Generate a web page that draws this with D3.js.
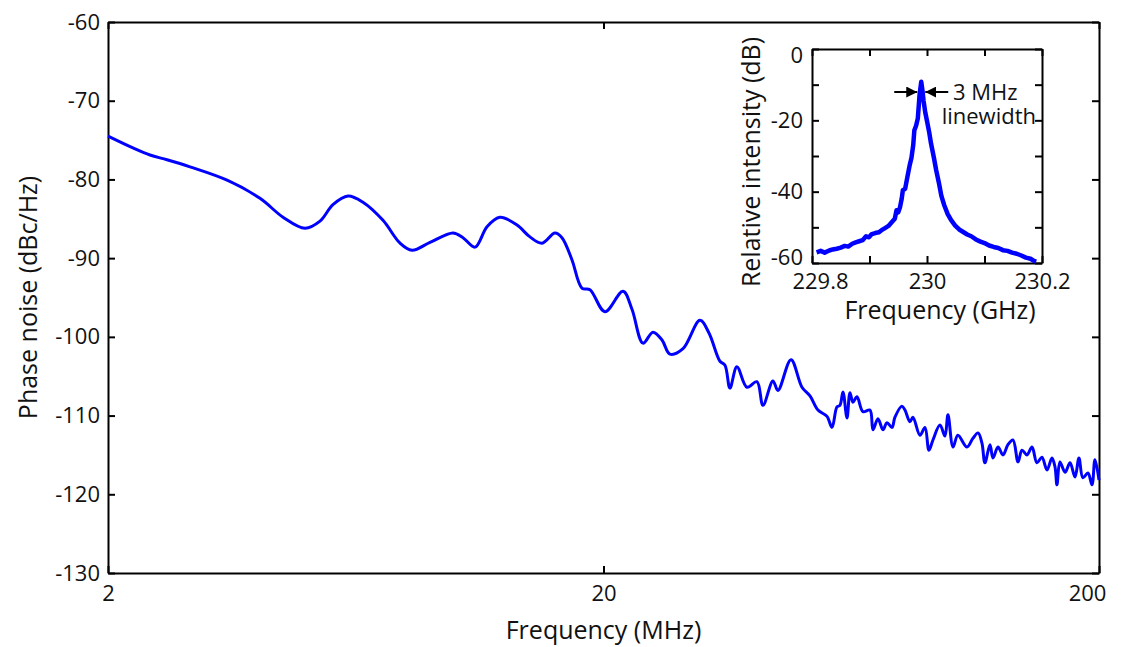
<!DOCTYPE html>
<html>
<head>
<meta charset="utf-8">
<script src="https://cdn.jsdelivr.net/npm/d3@7"></script>
<style>
  body { margin: 0; background: #fff; }
  svg { font-family: "Open Sans", "Noto Sans", sans-serif; }
  .axis path, .axis line { stroke: #000; stroke-width: 2; }
  .axis text { font-size: 22px; fill: #111; font-family: "Open Sans", sans-serif; }
  .label { font-size: 25px; fill: #111; }
</style>
</head>
<body>
<div id="chart"></div>
<script>
// main plot: phase noise vs offset frequency (MHz)
var noiseFreq = [2.00, 2.246, 2.431, 2.631, 2.927, 3.478, 4.053, 4.511, 4.996, 5.356, 5.689, 6.102, 6.540,
  7.178, 7.770, 8.216, 8.930, 9.938, 10.41, 11.01, 11.64, 12.36, 13.38, 14.21, 15.03, 15.96, 16.49,
  17.27, 18.09, 18.78, 20.14, 21.90, 22.83, 24.03, 25.17, 26.25, 27.24, 28.94, 31.31, 32.65, 34.36,
  35.17, 35.99, 37.18, 38.95, 40.80, 41.96, 43.95, 44.99, 47.80, 50.30, 52.21, 54.18, 56.50, 57.83,
  59.18, 60.01, 60.86, 62.00, 62.87, 63.75, 64.95, 66.78, 68.99, 69.96, 71.61, 73.29, 74.66, 76.42,
  77.49, 80.05, 81.18, 83.08, 84.25, 87.03, 89.08, 90.75, 92.45, 95.51, 97.75, 99.13, 101.5, 103.8,
  108.3, 111.3, 114.0, 116.1, 117.7, 120.5, 122.2, 125.1, 128.0, 131.0, 134.1, 137.3, 139.8, 143.1,
  146.5, 149.9, 153.4, 157.1, 160.7, 163.0, 164.5, 166.8, 170.8, 174.8, 178.9, 182.2, 185.6, 190.0,
  193.6, 196.3, 200];
var noiseDb = [-74.5, -76.0, -76.9, -77.5, -78.4, -80.1, -82.4, -84.8, -86.2, -85.3, -83.2, -82.1, -82.9,
  -85.2, -88.1, -89.0, -88.0, -86.8, -87.4, -88.6, -86.0, -84.8, -85.8, -87.3, -88.1, -86.8, -87.4,
  -90.2, -93.8, -94.0, -96.8, -94.2, -96.5, -100.8, -99.4, -100.4, -102.2, -101.5, -97.9, -99.5, -103.1,
  -103.6, -106.5, -103.8, -106.4, -105.7, -108.7, -105.6, -106.8, -102.9, -106.4, -107.5, -109.3, -110.1, -111.5,
  -108.9, -108.7, -107.0, -110.3, -107.1, -108.3, -107.6, -109.5, -109.3, -111.8, -110.4, -111.8, -110.9, -111.5,
  -110.2, -108.8, -109.3, -110.8, -110.2, -112.5, -111.5, -114.4, -113.1, -111.2, -112.6, -109.9, -114.0, -112.5,
  -114.0, -112.9, -112.2, -113.5, -116.0, -113.7, -115.4, -114.0, -115.0, -113.7, -113.1, -115.9, -114.4, -115.0,
  -114.0, -116.0, -115.3, -116.9, -115.4, -116.5, -118.8, -115.9, -117.2, -116.0, -117.8, -115.4, -117.9, -117.3,
  -118.8, -115.6, -118.2];
var xTicks = [2, 20, 200];
var yTicks = [-60, -70, -80, -90, -100, -110, -120, -130];

// inset: optical spectrum (GHz)
var specFreq = [229.808, 229.815, 229.822, 229.830, 229.836, 229.843, 229.850, 229.857, 229.863, 229.870,
  229.876, 229.882, 229.888, 229.894, 229.899, 229.904, 229.910, 229.916, 229.921, 229.927, 229.933,
  229.939, 229.944, 229.947, 229.950, 229.953, 229.956, 229.958, 229.962, 229.966, 229.970, 229.973,
  229.976, 229.978, 229.981, 229.984, 229.987, 229.990, 229.992, 229.994, 229.997, 230.000, 230.004,
  230.007, 230.012, 230.016, 230.021, 230.025, 230.030, 230.036, 230.042, 230.049, 230.056, 230.063,
  230.070, 230.077, 230.085, 230.093, 230.100, 230.108, 230.116, 230.124, 230.132, 230.140, 230.148,
  230.156, 230.164, 230.172, 230.180, 230.186, 230.190];
var specDb = [-57.0, -56.6, -57.1, -56.5, -56.2, -56.0, -55.7, -55.2, -55.4, -54.6,
  -54.2, -53.9, -53.6, -52.5, -52.8, -51.9, -51.6, -51.4, -50.8, -50.2, -49.6,
  -48.5, -47.6, -45.2, -45.8, -44.4, -42.0, -39.6, -39.2, -35.8, -32.5, -30.5,
  -27.0, -22.8, -21.5, -19.5, -13.0, -9.2, -11.5, -14.5, -17.8, -20.2, -23.5,
  -26.5, -30.5, -34.0, -37.8, -41.2, -43.8, -46.3, -48.0, -49.5, -50.6, -51.3,
  -52.0, -52.5, -53.4, -54.0, -54.4, -55.1, -55.5, -55.8, -56.4, -56.6, -57.1,
  -57.4, -57.9, -58.5, -58.8, -59.4, -59.6];
var specXTicks = [229.8, 229.9, 230, 230.1, 230.2];
var specXLabels = [229.8, 230, 230.2];
var specYTicks = [0, -10, -20, -30, -40, -50, -60];
var specYLabels = [0, -20, -40, -60];
var lwFreq = [229.990];   // peak that the linewidth arrows point at

var width = 1122, height = 647;
var mLeft = 108, mRight = 1099, mTop = 22, mBottom = 573;

// plain hyphen for negatives, like the original figure
function fmt(d) { return String(d); }

var svg = d3.select('#chart').append('svg')
  .attr('width', width)
  .attr('height', height);

var x = d3.scaleLog().domain([2, 200]).range([mLeft, mRight]);
var y = d3.scaleLinear().domain([-130, -60]).range([mBottom, mTop]);

// axes, ticks pointing inwards on all four sides
svg.append('g').attr('class', 'axis')
  .attr('transform', 'translate(0,' + mBottom + ')')
  .call(d3.axisBottom(x).tickValues(xTicks).tickFormat(fmt)
    .tickSizeInner(-7).tickSizeOuter(0).tickPadding(12))
  .selectAll('text').attr('dx', function(d) { return d == 200 ? -12 : 0; });
svg.append('g').attr('class', 'axis')
  .attr('transform', 'translate(0,' + mTop + ')')
  .call(d3.axisTop(x).tickValues(xTicks).tickFormat('').tickSizeInner(-7).tickSizeOuter(0));
svg.append('g').attr('class', 'axis')
  .attr('transform', 'translate(' + mLeft + ',0)')
  .call(d3.axisLeft(y).tickValues(yTicks).tickFormat(fmt)
    .tickSizeInner(-7).tickSizeOuter(0).tickPadding(8));
svg.append('g').attr('class', 'axis')
  .attr('transform', 'translate(' + mRight + ',0)')
  .call(d3.axisRight(y).tickValues(yTicks).tickFormat('').tickSizeInner(-7).tickSizeOuter(0));

var line = d3.line()
  .x(function(d) { return x(d[0]); })
  .y(function(d) { return y(d[1]); })
  .curve(d3.curveCatmullRom.alpha(0.5));

svg.append('path')
  .datum(d3.zip(noiseFreq, noiseDb))
  .attr('fill', 'none')
  .attr('stroke', '#0000ff')
  .attr('stroke-width', 3)
  .attr('stroke-linejoin', 'round')
  .attr('d', line);

svg.append('text')
  .attr('class', 'label')
  .attr('text-anchor', 'middle')
  .attr('x', (mLeft + mRight) / 2)
  .attr('y', 639)
  .text('Frequency (MHz)');

svg.append('text')
  .attr('class', 'label')
  .attr('text-anchor', 'middle')
  .attr('transform', 'translate(37,' + (mTop + mBottom) / 2 + ') rotate(-90)')
  .text('Phase noise (dBc/Hz)');

// ---- inset ----
var il = 812, ir = 1042, it = 49, ib = 263;
var ix = d3.scaleLinear().domain([229.8, 230.2]).range([il, ir]);
var iy = d3.scaleLinear().domain([-60, 0]).range([ib, it]);

svg.append('g').attr('class', 'axis')
  .attr('transform', 'translate(0,' + ib + ')')
  .call(d3.axisBottom(ix).tickValues(specXTicks).tickSizeInner(-7).tickSizeOuter(0).tickPadding(10)
    .tickFormat(function(d) { return specXLabels.indexOf(d) >= 0 ? fmt(d) : ''; }))
  .selectAll('text').attr('dx', function(d) { return d == 229.8 ? 8 : 0; });
svg.append('g').attr('class', 'axis')
  .attr('transform', 'translate(0,' + it + ')')
  .call(d3.axisTop(ix).tickValues(specXTicks).tickFormat('').tickSizeInner(-7).tickSizeOuter(0));
svg.append('g').attr('class', 'axis')
  .attr('transform', 'translate(' + il + ',0)')
  .call(d3.axisLeft(iy).tickValues(specYTicks).tickSizeInner(-7).tickSizeOuter(0).tickPadding(9)
    .tickFormat(function(d) { return specYLabels.indexOf(d) >= 0 ? fmt(d) : ''; }))
  .selectAll('text').attr('dy', function(d) { return d == 0 ? '0.6em' : (d == -60 ? '0.05em' : '0.32em'); });
svg.append('g').attr('class', 'axis')
  .attr('transform', 'translate(' + ir + ',0)')
  .call(d3.axisRight(iy).tickValues(specYTicks).tickFormat('').tickSizeInner(-7).tickSizeOuter(0));

svg.selectAll('g.axis').attr('font-family', null).attr('font-size', null);

var iline = d3.line()
  .x(function(d) { return ix(d[0]); })
  .y(function(d) { return iy(d[1]); });

svg.append('path')
  .datum(d3.zip(specFreq, specDb))
  .attr('fill', 'none')
  .attr('stroke', '#0000ff')
  .attr('stroke-width', 4.5)
  .attr('stroke-linejoin', 'round')
  .attr('d', iline);

// linewidth arrows
svg.append('defs').append('marker')
  .attr('id', 'head')
  .attr('viewBox', '0 0 10 10')
  .attr('refX', 10).attr('refY', 5)
  .attr('markerWidth', 11).attr('markerHeight', 11)
  .attr('markerUnits', 'userSpaceOnUse')
  .attr('orient', 'auto')
  .append('path').attr('d', 'M0,0L10,5L0,10z').attr('fill', '#000');

var ay = 92, px = ix(lwFreq[0]);
svg.append('line')
  .attr('x1', px - 27).attr('x2', px - 4).attr('y1', ay).attr('y2', ay)
  .attr('stroke', '#000').attr('stroke-width', 2).attr('marker-end', 'url(#head)');
svg.append('line')
  .attr('x1', px + 27).attr('x2', px + 4).attr('y1', ay).attr('y2', ay)
  .attr('stroke', '#000').attr('stroke-width', 2).attr('marker-end', 'url(#head)');

svg.append('text')
  .attr('class', 'label')
  .attr('x', 953).attr('y', ay + 8)
  .style('font-size', '22px')
  .text('3 MHz');
svg.append('text')
  .attr('class', 'label')
  .attr('x', 1036).attr('y', 124)
  .attr('text-anchor', 'end')
  .style('font-size', '22px')
  .text('linewidth');

svg.append('text')
  .attr('class', 'label')
  .attr('text-anchor', 'middle')
  .attr('x', 940).attr('y', 319)
  .text('Frequency (GHz)');

svg.append('text')
  .attr('class', 'label')
  .attr('text-anchor', 'middle')
  .attr('transform', 'translate(760,162) rotate(-90)')
  .text('Relative intensity (dB)');
</script>
</body>
</html>
